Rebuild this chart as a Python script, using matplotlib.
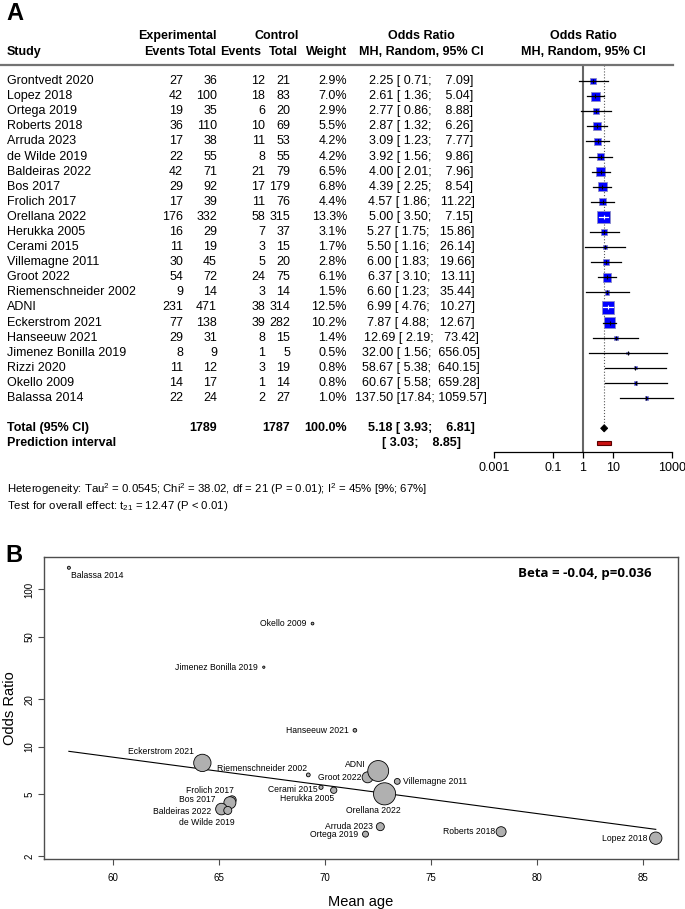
import numpy as np
import matplotlib
matplotlib.use('Agg')
import matplotlib.pyplot as plt
from matplotlib import transforms
from matplotlib.patches import Polygon, Rectangle
from matplotlib.ticker import NullLocator

plt.rcParams['font.family'] = ['Liberation Sans', 'DejaVu Sans']
plt.rcParams['mathtext.fontset'] = 'custom'
plt.rcParams['mathtext.rm'] = 'Liberation Sans'
plt.rcParams['mathtext.it'] = 'Liberation Sans:italic'
plt.rcParams['mathtext.bf'] = 'Liberation Sans:bold'

# ---- Panel A: forest plot data ----
studies = ['Grontvedt 2020', 'Lopez 2018', 'Ortega 2019', 'Roberts 2018', 'Arruda 2023',
           'de Wilde 2019', 'Baldeiras 2022', 'Bos 2017', 'Frolich 2017', 'Orellana 2022',
           'Herukka 2005', 'Cerami 2015', 'Villemagne 2011', 'Groot 2022',
           'Riemenschneider 2002', 'ADNI', 'Eckerstrom 2021', 'Hanseeuw 2021',
           'Jimenez Bonilla 2019', 'Rizzi 2020', 'Okello 2009', 'Balassa 2014']
exp_events = [27, 42, 19, 36, 17, 22, 42, 29, 17, 176, 16, 11, 30, 54, 9, 231, 77, 29, 8, 11, 14, 22]
exp_total = [36, 100, 35, 110, 38, 55, 71, 92, 39, 332, 29, 19, 45, 72, 14, 471, 138, 31, 9, 12, 17, 24]
ctrl_events = [12, 18, 6, 10, 11, 8, 21, 17, 11, 58, 7, 3, 5, 24, 3, 38, 39, 8, 1, 3, 1, 2]
ctrl_total = [21, 83, 20, 69, 53, 55, 79, 179, 76, 315, 37, 15, 20, 75, 14, 314, 282, 15, 5, 19, 14, 27]
weights = [2.9, 7.0, 2.9, 5.5, 4.2, 4.2, 6.5, 6.8, 4.4, 13.3, 3.1, 1.7, 2.8, 6.1, 1.5, 12.5,
           10.2, 1.4, 0.5, 0.8, 0.8, 1.0]
odds = [2.25, 2.61, 2.77, 2.87, 3.09, 3.92, 4.00, 4.39, 4.57, 5.00, 5.27, 5.50, 6.00, 6.37,
        6.60, 6.99, 7.87, 12.69, 32.00, 58.67, 60.67, 137.50]
ci_low = [0.71, 1.36, 0.86, 1.32, 1.23, 1.56, 2.01, 2.25, 1.86, 3.50, 1.75, 1.16, 1.83, 3.10,
          1.23, 4.76, 4.88, 2.19, 1.56, 5.38, 5.58, 17.84]
ci_high = [7.09, 5.04, 8.88, 6.26, 7.77, 9.86, 7.96, 8.54, 11.22, 7.15, 15.86, 26.14, 19.66,
           13.11, 35.44, 10.27, 12.67, 73.42, 656.05, 640.15, 659.28, 1059.57]
total_exp = 1789
total_ctrl = 1787
pooled = [5.18, 3.93, 6.81]
pred_interval = [3.03, 8.85]
axis_ticks = [0.001, 0.1, 1, 10, 1000]

# ---- Panel B: meta-regression data ----
reg_studies = ['Balassa 2014', 'Okello 2009', 'Jimenez Bonilla 2019', 'Hanseeuw 2021',
               'Eckerstrom 2021', 'Riemenschneider 2002', 'Groot 2022', 'ADNI',
               'Villemagne 2011', 'Cerami 2015', 'Herukka 2005', 'Orellana 2022',
               'Frolich 2017', 'Bos 2017', 'Baldeiras 2022', 'de Wilde 2019',
               'Arruda 2023', 'Ortega 2019', 'Roberts 2018', 'Lopez 2018']
reg_age = [57.9, 69.4, 67.1, 71.4, 64.2, 69.2, 72.0, 72.5, 73.4, 69.8, 70.4, 72.8,
           65.6, 65.5, 65.1, 65.4, 72.6, 71.9, 78.3, 85.6]
reg_beta = -0.0413
reg_intercept = 4.624

W, H = 685, 909


def px_x(x):
    return x / W


def px_y(y):
    return 1 - y / H


fig = plt.figure(figsize=(W / 100, H / 100), dpi=100)

# ================= Panel A =================
n = len(studies)
rows = np.arange(n)
total_row = n + 1
pi_row = n + 2

axA = fig.add_axes([px_x(494), px_y(452), (672 - 494) / W, (452 - 65) / H])
axA.set_xscale('log')
axA.set_xlim(0.001, 1000)
axA.set_ylim(pi_row + 0.57, -1.06)
for s in ['top', 'left', 'right']:
    axA.spines[s].set_visible(False)
axA.spines['bottom'].set_linewidth(0.9)
axA.set_yticks([])
axA.set_xticks(axis_ticks)
axA.set_xticklabels([('%g' % t) for t in axis_ticks])
axA.xaxis.set_minor_locator(NullLocator())
axA.tick_params(axis='x', length=4.5, width=0.9, pad=2.5, labelsize=9)
axA.patch.set_visible(False)

# reference lines
axA.axvline(1, color='0.4', lw=1.5, zorder=1)
axA.plot([pooled[0], pooled[0]], [-1.06, total_row], linestyle=':', color='0.35', lw=0.8, zorder=1)

# CI lines and squares
px_per_unit = axA.transData.transform((10, 0))[0] - axA.transData.transform((1, 0))[0]
sides_px = 3.48 * np.sqrt(weights)
axA.scatter(odds, rows, s=(sides_px * 0.72) ** 2, marker='s', c='#0000ff',
            edgecolors='#8c8cc8', linewidths=0.6, zorder=3)
for i in range(n):
    ci_px = np.log10(ci_high[i] / ci_low[i]) * px_per_unit
    col = 'white' if ci_px < sides_px[i] else 'black'
    axA.plot([ci_low[i], ci_high[i]], [i, i], color=col, lw=0.9, zorder=4, clip_on=False)
    axA.plot([odds[i]], [i], marker='|', ms=3, mew=0.8, color=col, zorder=4)

# pooled diamond and prediction interval
axA.add_patch(Polygon([(pooled[1], total_row), (pooled[0], total_row - 0.24),
                       (pooled[2], total_row), (pooled[0], total_row + 0.24)],
                      closed=True, facecolor='black', edgecolor='black', lw=0.6, zorder=3))
axA.add_patch(Rectangle((pred_interval[0], pi_row - 0.13), pred_interval[1] - pred_interval[0], 0.26,
                        facecolor='#cc1111', edgecolor='#5a0000', lw=0.8, zorder=3))

# table text
trans = transforms.blended_transform_factory(fig.transFigure, axA.transData)
fs = 9
for i in range(n):
    fig.text(px_x(7), i, studies[i], transform=trans, fontsize=fs, va='center', ha='left')
    fig.text(px_x(183), i, str(exp_events[i]), transform=trans, fontsize=fs, va='center', ha='right')
    fig.text(px_x(217), i, str(exp_total[i]), transform=trans, fontsize=fs, va='center', ha='right')
    fig.text(px_x(265), i, str(ctrl_events[i]), transform=trans, fontsize=fs, va='center', ha='right')
    fig.text(px_x(290), i, str(ctrl_total[i]), transform=trans, fontsize=fs, va='center', ha='right')
    fig.text(px_x(347), i, '%.1f%%' % weights[i], transform=trans, fontsize=fs, va='center', ha='right')
    fig.text(px_x(421), i, '%.2f [%5.2f; %7.2f]' % (odds[i], ci_low[i], ci_high[i]),
             transform=trans, fontsize=fs, va='center', ha='center')

bold = dict(transform=trans, fontsize=fs, va='center', fontweight='bold')
fig.text(px_x(7), total_row, 'Total (95% CI)', ha='left', **bold)
fig.text(px_x(217), total_row, str(total_exp), ha='right', **bold)
fig.text(px_x(290), total_row, str(total_ctrl), ha='right', **bold)
fig.text(px_x(347), total_row, '100.0%', ha='right', **bold)
fig.text(px_x(421), total_row, '%.2f [%5.2f; %7.2f]' % tuple(pooled), ha='center', **bold)
fig.text(px_x(7), pi_row, 'Prediction interval', ha='left', **bold)
fig.text(px_x(421), pi_row, '[%5.2f; %7.2f]' % tuple(pred_interval), ha='center', **bold)

# header
hd = dict(fontsize=fs, fontweight='bold', va='center')
fig.text(px_x(177.5), px_y(36), 'Experimental', ha='center', **hd)
fig.text(px_x(277), px_y(36), 'Control', ha='center', **hd)
fig.text(px_x(421), px_y(36), 'Odds Ratio', ha='center', **hd)
fig.text(px_x(583), px_y(36), 'Odds Ratio', ha='center', **hd)
fig.text(px_x(7), px_y(52), 'Study', ha='left', **hd)
fig.text(px_x(185), px_y(52), 'Events', ha='right', **hd)
fig.text(px_x(217), px_y(52), 'Total', ha='right', **hd)
fig.text(px_x(261), px_y(52), 'Events', ha='right', **hd)
fig.text(px_x(298), px_y(52), 'Total', ha='right', **hd)
fig.text(px_x(347), px_y(52), 'Weight', ha='right', **hd)
fig.text(px_x(421), px_y(52), 'MH, Random, 95% CI', ha='center', **hd)
fig.text(px_x(583), px_y(52), 'MH, Random, 95% CI', ha='center', **hd)
fig.add_artist(plt.Line2D([px_x(0), px_x(673)], [px_y(65), px_y(65)], color='0.45', lw=1.6))

# heterogeneity
fig.text(px_x(7), px_y(489), r'Heterogeneity: Tau$^2$ = 0.0545; Chi$^2$ = 38.02, df = 21 (P = 0.01); I$^2$ = 45% [9%; 67%]',
         fontsize=8.2, va='center', ha='left')
fig.text(px_x(7), px_y(506), r'Test for overall effect: t$_{21}$ = 12.47 (P < 0.01)',
         fontsize=8.2, va='center', ha='left')

fig.text(px_x(6), px_y(14), 'A', fontsize=17, fontweight='bold', va='center', ha='left')

# ================= Panel B =================
or_lookup = dict(zip(studies, odds))
w_lookup = dict(zip(studies, weights))
reg_or = [or_lookup[s] for s in reg_studies]
reg_w = np.array([w_lookup[s] for s in reg_studies])

axB = fig.add_axes([px_x(44.3), px_y(859.3), (678 - 44.3) / W, (859.3 - 557) / H])
axB.set_yscale('log')
axB.set_xlim(56.74, 86.65)
axB.set_ylim(1.915, 161)
for s in axB.spines.values():
    s.set_color('0.3')
    s.set_linewidth(1.0)
axB.set_xticks([60, 65, 70, 75, 80, 85])
axB.set_yticks([2, 5, 10, 20, 50, 100])
axB.set_yticklabels(['2', '5', '10', '20', '50', '100'])
axB.yaxis.set_minor_locator(NullLocator())
axB.tick_params(axis='both', length=4, width=0.8, color='0.3', labelsize=7)
axB.tick_params(axis='x', pad=6)
axB.tick_params(axis='y', pad=3)
for lab in axB.get_yticklabels():
    lab.set_rotation(90)
    lab.set_va('center')

# regression line
age_line = np.array([min(reg_age), max(reg_age)])
axB.plot(age_line, np.exp(reg_intercept + reg_beta * age_line), color='black', lw=0.8, zorder=2)

# bubbles
diam_px = 1.5 + 1.55 * reg_w
axB.scatter(reg_age, reg_or, s=(diam_px * 0.72) ** 2, c='#b0b0b0', edgecolors='black',
            linewidths=0.6, zorder=3)

# label placement: (dx px, dy px downward, alignment)
label_pos = {
    'Balassa 2014': (2, 8, 'left'), 'Okello 2009': (-6, 0, 'right'),
    'Jimenez Bonilla 2019': (-6, 0, 'right'), 'Hanseeuw 2021': (-6, 0, 'right'),
    'Eckerstrom 2021': (-8, -11, 'right'), 'Riemenschneider 2002': (-1, -6, 'right'),
    'Groot 2022': (-6, 0, 'right'), 'ADNI': (-12, -6, 'right'),
    'Villemagne 2011': (6, 0, 'left'), 'Cerami 2015': (-3, 2, 'right'),
    'Herukka 2005': (0, 8, 'right'), 'Orellana 2022': (-11, 17, 'center'),
    'Frolich 2017': (2, -9, 'right'), 'Bos 2017': (-14, -3, 'right'),
    'Baldeiras 2022': (-10, 2, 'right'), 'de Wilde 2019': (7, 12, 'right'),
    'Arruda 2023': (-7, 0, 'right'), 'Ortega 2019': (-7, 0, 'right'),
    'Roberts 2018': (-6, 0, 'right'), 'Lopez 2018': (-8, 0, 'right'),
}
for s, a, o in zip(reg_studies, reg_age, reg_or):
    dx, dy, ha = label_pos[s]
    axB.annotate(s, (a, o), xytext=(dx * 0.72, -dy * 0.72), textcoords='offset points',
                 ha=ha, va='center', fontsize=6.2, zorder=4)

fig.text(px_x(585), px_y(574), 'Beta = -0.04, p=0.036', family=['Open Sans', 'DejaVu Sans'],
         fontweight='bold', fontsize=9.5, ha='center', va='center')
fig.text(px_x(10), px_y(708), 'Odds Ratio', rotation=90, fontsize=10.5, ha='center', va='center')
fig.text(px_x(361), px_y(902), 'Mean age', fontsize=10.5, ha='center', va='center')
fig.text(px_x(5), px_y(555), 'B', fontsize=17, fontweight='bold', va='center', ha='left')

fig.savefig('out.png', dpi=100)
